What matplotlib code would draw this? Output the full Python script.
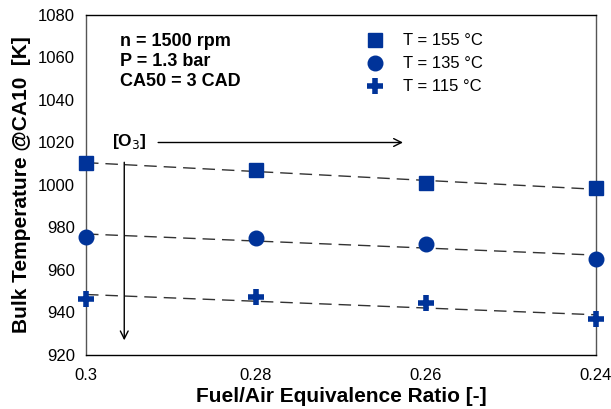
import matplotlib
matplotlib.use('Agg')
from matplotlib import pyplot as plt
import numpy as np

plt.rcParams['font.family'] = ['Liberation Sans', 'DejaVu Sans']

# data
phi = [0.30, 0.28, 0.26, 0.24]
t155 = [1010.3, 1007.2, 1001.1, 998.4]
t135 = [975.5, 974.9, 972.1, 965.4]
t115 = [946.5, 947.1, 944.4, 936.8]
labels = ['T = 155 °C', 'T = 135 °C', 'T = 115 °C']
markers = ['s', 'o', '+']
blue = '#003399'

fig = plt.figure(figsize=(6.11, 4.09), dpi=100)
ax = fig.add_axes([86/611, 1-355/409, (596-86)/611, (355-15)/409])

x = np.array(phi)
for ys, m, lab in zip([t155, t135, t115], markers, labels):
    ys = np.array(ys)
    k, b = np.polyfit(x, ys, 1)  # linear trend line
    ax.plot(x, k*x + b, color='#333333', lw=1.0, ls=(0, (9, 5)), zorder=2)
    if m == '+':
        ax.plot(x, ys, ls='none', marker=m, ms=12, mew=4, color=blue, label=lab,
                clip_on=False, zorder=3)
    else:
        ax.plot(x, ys, ls='none', marker=m, ms=10.5, color=blue, mec=blue, label=lab,
                clip_on=False, zorder=3)

ax.set_xlim(0.30, 0.24)
ax.set_ylim(920, 1080)
ax.set_xticks(phi)
ax.set_xticklabels(['0.3', '0.28', '0.26', '0.24'])
ax.set_yticks(np.arange(920, 1081, 20))
ax.tick_params(length=0, labelsize=12)
ax.tick_params(axis='x', pad=9)
ax.tick_params(axis='y', pad=8)

for s in ['left', 'right']:
    ax.spines[s].set_color('#555555')
for s in ax.spines.values():
    s.set_linewidth(1.0)

ax.set_xlabel('Fuel/Air Equivalence Ratio [-]', fontsize=15, fontweight='bold', labelpad=3)
ax.set_ylabel('Bulk Temperature @CA10  [K]', fontsize=15, fontweight='bold', labelpad=5)

ax.text(0.067, 0.948, 'n = 1500 rpm\nP = 1.3 bar\nCA50 = 3 CAD', transform=ax.transAxes,
        fontsize=13, fontweight='bold', va='top', ha='left', linespacing=1.24)

ax.text(0.05, 0.628, r'[O$_3$]', transform=ax.transAxes, fontsize=12.5,
        fontweight='bold', va='center', ha='left')
ax.annotate('', xy=(0.627, 0.625), xytext=(0.136, 0.625), xycoords='axes fraction',
            arrowprops=dict(arrowstyle='->', color='black', lw=1.0, mutation_scale=14))
ax.annotate('', xy=(0.075, 0.035), xytext=(0.075, 0.575), xycoords='axes fraction',
            arrowprops=dict(arrowstyle='->', color='black', lw=1.0, mutation_scale=14))

ax.legend(loc='upper left', bbox_to_anchor=(0.52, 0.99), frameon=False, fontsize=12,
          handlelength=1.0, handletextpad=1.2, labelspacing=0.48, numpoints=1)

fig.savefig('out.png', dpi=100)
